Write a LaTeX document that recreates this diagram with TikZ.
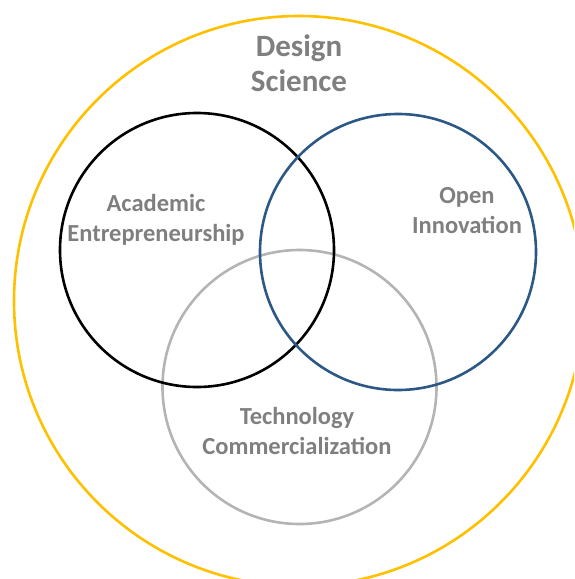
\documentclass[tikz,border=0pt]{standalone}
\usepackage{fontspec}
\setmainfont{Carlito}
\definecolor{ringyellow}{HTML}{FFC000}
\definecolor{ringblue}{HTML}{2C5886}
\definecolor{ringgray}{HTML}{B4B4B4}
\definecolor{labelgray}{HTML}{7F7F7F}
\begin{document}
\begin{tikzpicture}[x=1pt,y=-1pt,
  ring/.style={line width=2.6pt},
  biglabel/.style={text=labelgray,font=\bfseries\fontsize{31}{35}\selectfont,align=center},
  label/.style={text=labelgray,font=\bfseries\fontsize{24.5}{30}\selectfont,align=center}]
\useasboundingbox (0,0) rectangle (574,579);
\clip (0,0) rectangle (574,579);
% outer field
\draw[ring,ringyellow] (299,301) circle (285);
% three overlapping areas
\draw[ring,ringgray] (299.5,387) circle (137);
\draw[ring,black] (197,250) circle (137);
\draw[ring,ringblue] (398,252) circle (138);
% labels
\node[biglabel] (ds) at (299,63) {Design\\Science};
\node[label] (ae) at (156,220) {Academic\\Entrepreneurship};
\node[label] (oi) at (467,211) {Open\\Innovation};
\node[label] (tc) at (297,431) {Technology\\Commercialization};
\end{tikzpicture}
\end{document}
